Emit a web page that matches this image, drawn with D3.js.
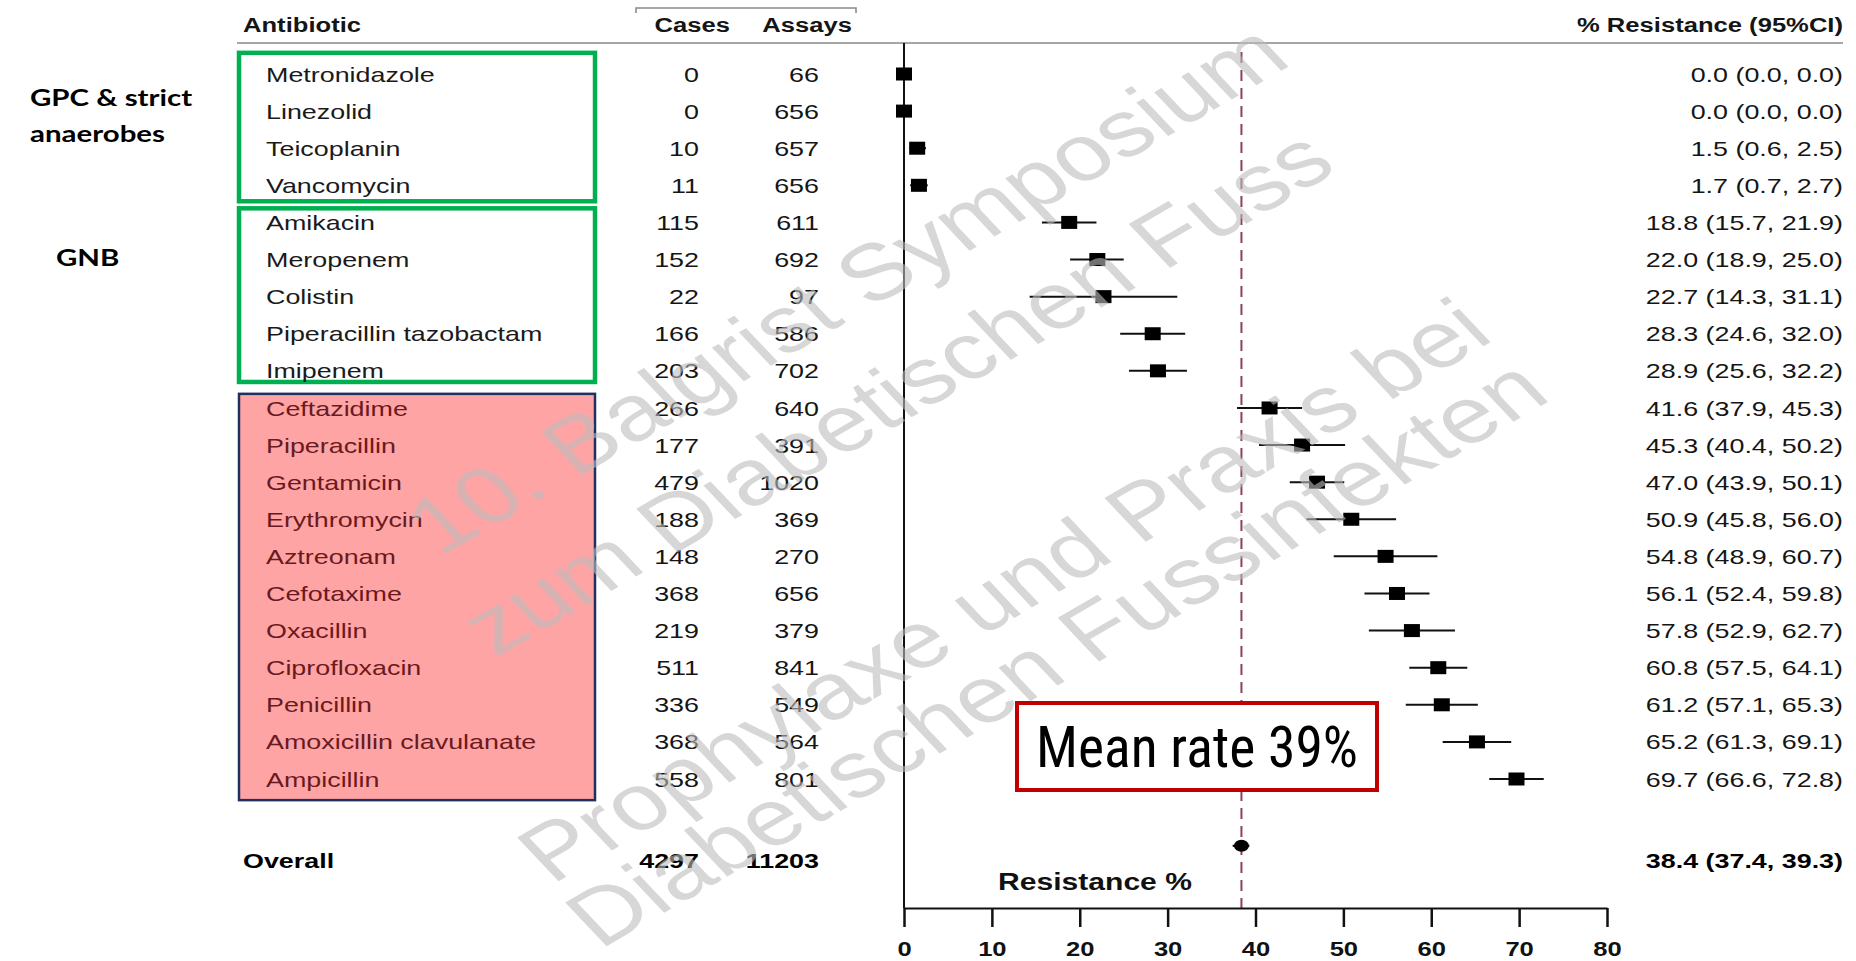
<!DOCTYPE html>
<html><head><meta charset="utf-8">
<script src="https://cdn.jsdelivr.net/npm/d3@7"></script>
<style>html,body{margin:0;padding:0;background:#fff;} svg{display:block}</style>
</head><body><svg id="c" width="1856" height="961"></svg>
<script>
// ---------- data ----------
const antibiotics = ["Metronidazole","Linezolid","Teicoplanin","Vancomycin","Amikacin","Meropenem","Colistin",
  "Piperacillin tazobactam","Imipenem","Ceftazidime","Piperacillin","Gentamicin","Erythromycin","Aztreonam",
  "Cefotaxime","Oxacillin","Ciprofloxacin","Penicillin","Amoxicillin clavulanate","Ampicillin"];
const cases  = [0,0,10,11,115,152,22,166,203,266,177,479,188,148,368,219,511,336,368,558];
const assays = [66,656,657,656,611,692,97,586,702,640,391,1020,369,270,656,379,841,549,564,801];
const resistance = [0.0,0.0,1.5,1.7,18.8,22.0,22.7,28.3,28.9,41.6,45.3,47.0,50.9,54.8,56.1,57.8,60.8,61.2,65.2,69.7];
const ciLow  = [0.0,0.0,0.6,0.7,15.7,18.9,14.3,24.6,25.6,37.9,40.4,43.9,45.8,48.9,52.4,52.9,57.5,57.1,61.3,66.6];
const ciHigh = [0.0,0.0,2.5,2.7,21.9,25.0,31.1,32.0,32.2,45.3,50.2,50.1,56.0,60.7,59.8,62.7,64.1,65.3,69.1,72.8];
const overallLabel = "Overall";
const overallCases = 4297, overallAssays = 11203;
const overallValue = 38.4, overallLow = 37.4, overallHigh = 39.3;
const meanRate = 38.4;
const xTicks = [0,10,20,30,40,50,60,70,80];
const headers = ["Antibiotic","Cases","Assays","% Resistance (95%CI)"];
const groupLabels = [["GPC & strict","anaerobes"],["GNB"]];
const watermark = ["10. Balgrist Symposium","zum Diabetischen Fuss","Prophylaxe und Praxis bei","Diabetischen Fussinfekten"];

// ---------- layout ----------
const SX = 1.28; // horizontal stretch of the original slide
const svg = d3.select("#c");
const x = d3.scaleLinear().domain([0,80]).range([904,1607]);
const y = d3.scaleLinear().domain([0,19]).range([74,779]);
const axisY = 908;
const overallRow = 21.2, overallDotRow = 20.8;
const FONT = "'Liberation Sans', Arial, Helvetica, sans-serif";

function txt(g, px, py, s, o={}) {
  return g.append("text")
    .attr("transform", `translate(${px},${py}) scale(${o.sx||SX},1)`)
    .attr("text-anchor", o.anchor||"start")
    .attr("dy", "0.36em")
    .attr("font-family", o.family||FONT)
    .attr("font-size", o.size||21)
    .attr("font-weight", o.weight||"normal")
    .attr("fill", o.fill||"#151515")
    .text(s);
}

// group boxes
const boxG = svg.append("g");
const boxes = [
  {r0:-0.57, r1:3.43, stroke:"#00b050", fill:"none", w:4.5},
  {r0:3.62, r1:8.3, stroke:"#00b050", fill:"none", w:4.5},
  {r0:8.62, r1:19.57, stroke:"#1f3060", fill:"#ffa4a4", w:2.5}
];
boxes.forEach(b => {
  boxG.append("rect").attr("x",239).attr("width",356)
    .attr("y", y(b.r0)).attr("height", y(b.r1)-y(b.r0))
    .attr("fill", b.fill).attr("stroke", b.stroke).attr("stroke-width", b.w);
});

// header
const hg = svg.append("g");
txt(hg, 243, 25, headers[0], {weight:"bold", size:20});
txt(hg, 730, 25, headers[1], {weight:"bold", size:20, anchor:"end"});
txt(hg, 852, 25, headers[2], {weight:"bold", size:20, anchor:"end"});
txt(hg, 1843, 25, headers[3], {weight:"bold", size:20, anchor:"end"});
hg.append("path").attr("d","M636,13 V8 H856 V13").attr("fill","none").attr("stroke","#8a8a8a").attr("stroke-width",1.6);
hg.append("line").attr("x1",237).attr("x2",1843).attr("y1",43).attr("y2",43).attr("stroke","#a6a6a6").attr("stroke-width",2.2);

// group labels on the left
const lg = svg.append("g");
const LFONT = "Lato, 'Open Sans', sans-serif";
txt(lg, 30, 98, groupLabels[0][0], {family:LFONT, weight:"bold", size:23, fill:"#000"});
txt(lg, 30, 134, groupLabels[0][1], {family:LFONT, weight:"bold", size:23, fill:"#000"});
txt(lg, 56, 258, groupLabels[1][0], {family:LFONT, weight:"bold", size:23, fill:"#000"});

// rows
const rg = svg.append("g");
antibiotics.forEach((name,i) => {
  const cy = y(i);
  const inRed = i >= 9;
  txt(rg, 266, cy, name, {fill: inRed ? "#6a1a1e" : "#1a1a1a"});
  txt(rg, 699, cy, String(cases[i]), {anchor:"end"});
  txt(rg, 819, cy, String(assays[i]), {anchor:"end"});
  txt(rg, 1843, cy, `${resistance[i].toFixed(1)} (${ciLow[i].toFixed(1)}, ${ciHigh[i].toFixed(1)})`, {anchor:"end"});
});
// overall row
const oy = y(overallRow);
txt(rg, 243, oy, overallLabel, {weight:"bold", fill:"#000"});
txt(rg, 699, oy, String(overallCases), {weight:"bold", anchor:"end", fill:"#000"});
txt(rg, 819, oy, String(overallAssays), {weight:"bold", anchor:"end", fill:"#000"});
txt(rg, 1843, oy, `${overallValue.toFixed(1)} (${overallLow.toFixed(1)}, ${overallHigh.toFixed(1)})`, {weight:"bold", anchor:"end", fill:"#000"});

// plot: vertical reference line at 0
const pg = svg.append("g");
pg.append("line").attr("x1",x(0)).attr("x2",x(0)).attr("y1",43).attr("y2",axisY).attr("stroke","#111").attr("stroke-width",2);
// mean dashed line
pg.append("line").attr("x1",x(meanRate)).attr("x2",x(meanRate)).attr("y1",52).attr("y2",axisY)
  .attr("stroke","#8e3f62").attr("stroke-width",2).attr("stroke-dasharray","11,7");

// CIs and squares
pg.selectAll("line.ci").data(antibiotics).join("line").attr("class","ci")
  .attr("x1",(d,i)=>x(ciLow[i])).attr("x2",(d,i)=>x(ciHigh[i]))
  .attr("y1",(d,i)=>y(i)).attr("y2",(d,i)=>y(i)).attr("stroke","#111").attr("stroke-width",2);
const SW = 16, SH = 13;
pg.selectAll("rect.pt").data(antibiotics).join("rect").attr("class","pt")
  .attr("x",(d,i)=>x(resistance[i])-SW/2).attr("y",(d,i)=>y(i)-SH/2)
  .attr("width",SW).attr("height",SH).attr("fill","#000");
// overall point
pg.append("line").attr("x1",x(overallLow)).attr("x2",x(overallHigh)).attr("y1",y(overallDotRow)).attr("y2",y(overallDotRow)).attr("stroke","#000").attr("stroke-width",2);
pg.append("ellipse").attr("cx",x(overallValue)).attr("cy",y(overallDotRow)).attr("rx",7.5).attr("ry",6).attr("fill","#000");

// axis
const ag = svg.append("g").attr("transform",`translate(0,${axisY})`)
  .call(d3.axisBottom(x).tickValues(xTicks).tickSize(19).tickSizeOuter(0).tickFormat(d3.format("d")));
ag.select(".domain").attr("stroke","#111").attr("stroke-width",2);
ag.selectAll(".tick line").attr("stroke","#111").attr("stroke-width",2.5);
ag.selectAll(".tick text").attr("y",null).attr("dy","0.36em")
  .attr("transform",`translate(0,41) scale(${SX},1)`)
  .attr("font-family",FONT).attr("font-size",20).attr("font-weight","bold").attr("fill","#111");
txt(svg, 1095, 882, "Resistance %", {weight:"bold", size:23.5, anchor:"middle", fill:"#111"});

// Mean rate annotation
const mg = svg.append("g");
mg.append("rect").attr("x",1017).attr("y",703).attr("width",360).attr("height",87)
  .attr("fill","#fff").attr("stroke","#c00000").attr("stroke-width",4);
mg.append("text").attr("x",1197).attr("y",767).attr("text-anchor","middle")
  .attr("font-family","'Liberation Sans Narrow','Arial Narrow','Roboto Condensed',sans-serif")
  .attr("font-size",58).attr("fill","#000")
  .attr("textLength",322).attr("lengthAdjust","spacingAndGlyphs")
  .text("Mean rate 39%");

// watermark
const wg = svg.append("g").attr("pointer-events","none");
const wmStarts = [[440,557],[495,658],[552,885],[600,950]];
watermark.forEach((s,i) => {
  wg.append("text")
    .attr("transform",`translate(${wmStarts[i][0]},${wmStarts[i][1]}) scale(${SX},1) rotate(-36.5)`)
    .attr("font-family",FONT).attr("font-size",79).attr("fill","#bdbdbd").attr("fill-opacity",0.6)
    .text(s);
});
</script></body></html>
